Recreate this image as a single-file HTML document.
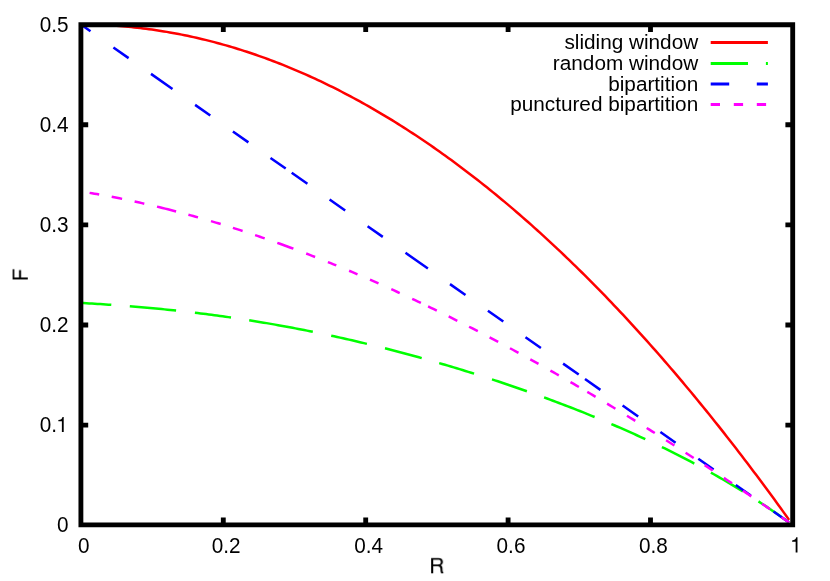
<!DOCTYPE html>
<html><head><meta charset="utf-8"><title>F vs R</title>
<style>html,body{margin:0;padding:0;background:#fff;width:830px;height:581px;overflow:hidden;font-family:"Liberation Sans",sans-serif}</style></head>
<body>
<svg width="830" height="581" viewBox="0 0 830 581" style="position:absolute;left:0;top:0;display:block;will-change:transform">
<rect x="0" y="0" width="830" height="581" fill="#ffffff"/>
<g fill="none" stroke-width="2.5" stroke-linecap="butt" stroke-linejoin="round">
<path stroke="#ff0000" d="M80.90 24.60 L83.86 24.61 L86.83 24.63 L89.79 24.68 L92.75 24.74 L95.72 24.82 L98.68 24.91 L101.64 25.02 L104.61 25.15 L107.57 25.30 L110.53 25.47 L113.49 25.65 L116.46 25.85 L119.42 26.07 L122.38 26.30 L125.35 26.55 L128.31 26.82 L131.27 27.11 L134.24 27.41 L137.20 27.73 L140.16 28.07 L143.13 28.42 L146.09 28.80 L149.05 29.19 L152.02 29.59 L154.98 30.02 L157.94 30.46 L160.91 30.92 L163.87 31.40 L166.83 31.89 L169.80 32.40 L172.76 32.93 L175.72 33.48 L178.68 34.04 L181.65 34.62 L184.61 35.22 L187.57 35.84 L190.54 36.47 L193.50 37.12 L196.46 37.79 L199.43 38.47 L202.39 39.18 L205.35 39.89 L208.32 40.63 L211.28 41.39 L214.24 42.16 L217.21 42.95 L220.17 43.75 L223.13 44.58 L226.10 45.42 L229.06 46.28 L232.02 47.15 L234.99 48.05 L237.95 48.96 L240.91 49.88 L243.87 50.83 L246.84 51.79 L249.80 52.77 L252.76 53.77 L255.73 54.78 L258.69 55.81 L261.65 56.86 L264.62 57.93 L267.58 59.01 L270.54 60.11 L273.51 61.23 L276.47 62.37 L279.43 63.52 L282.40 64.69 L285.36 65.88 L288.32 67.09 L291.29 68.31 L294.25 69.55 L297.21 70.81 L300.18 72.08 L303.14 73.37 L306.10 74.68 L309.06 76.01 L312.03 77.35 L314.99 78.71 L317.95 80.09 L320.92 81.49 L323.88 82.90 L326.84 84.33 L329.81 85.78 L332.77 87.24 L335.73 88.73 L338.70 90.23 L341.66 91.74 L344.62 93.28 L347.59 94.83 L350.55 96.40 L353.51 97.99 L356.48 99.59 L359.44 101.21 L362.40 102.85 L365.37 104.51 L368.33 106.18 L371.29 107.87 L374.25 109.58 L377.22 111.31 L380.18 113.05 L383.14 114.81 L386.11 116.59 L389.07 118.38 L392.03 120.19 L395.00 122.02 L397.96 123.87 L400.92 125.73 L403.89 127.61 L406.85 129.51 L409.81 131.43 L412.78 133.36 L415.74 135.31 L418.70 137.28 L421.67 139.27 L424.63 141.27 L427.59 143.29 L430.56 145.33 L433.52 147.38 L436.48 149.46 L439.44 151.55 L442.41 153.65 L445.37 155.78 L448.33 157.92 L451.30 160.08 L454.26 162.25 L457.22 164.45 L460.19 166.66 L463.15 168.89 L466.11 171.13 L469.08 173.40 L472.04 175.68 L475.00 177.97 L477.97 180.29 L480.93 182.62 L483.89 184.97 L486.86 187.34 L489.82 189.72 L492.78 192.12 L495.75 194.54 L498.71 196.98 L501.67 199.43 L504.63 201.90 L507.60 204.39 L510.56 206.90 L513.52 209.42 L516.49 211.96 L519.45 214.52 L522.41 217.09 L525.38 219.69 L528.34 222.30 L531.30 224.92 L534.27 227.57 L537.23 230.23 L540.19 232.91 L543.16 235.61 L546.12 238.32 L549.08 241.05 L552.05 243.80 L555.01 246.57 L557.97 249.35 L560.94 252.15 L563.90 254.97 L566.86 257.80 L569.82 260.66 L572.79 263.53 L575.75 266.41 L578.71 269.32 L581.68 272.24 L584.64 275.18 L587.60 278.14 L590.57 281.11 L593.53 284.10 L596.49 287.11 L599.46 290.14 L602.42 293.18 L605.38 296.24 L608.35 299.32 L611.31 302.41 L614.27 305.53 L617.24 308.66 L620.20 311.80 L623.16 314.97 L626.13 318.15 L629.09 321.35 L632.05 324.57 L635.01 327.80 L637.98 331.05 L640.94 334.32 L643.90 337.61 L646.87 340.91 L649.83 344.23 L652.79 347.57 L655.76 350.93 L658.72 354.30 L661.68 357.69 L664.65 361.10 L667.61 364.52 L670.57 367.96 L673.54 371.42 L676.50 374.90 L679.46 378.39 L682.43 381.90 L685.39 385.43 L688.35 388.98 L691.32 392.54 L694.28 396.12 L697.24 399.72 L700.20 403.34 L703.17 406.97 L706.13 410.62 L709.09 414.29 L712.06 417.97 L715.02 421.68 L717.98 425.40 L720.95 429.13 L723.91 432.89 L726.87 436.66 L729.84 440.45 L732.80 444.25 L735.76 448.08 L738.73 451.92 L741.69 455.78 L744.65 459.65 L747.62 463.55 L750.58 467.46 L753.54 471.39 L756.51 475.33 L759.47 479.29 L762.43 483.27 L765.39 487.27 L768.36 491.28 L771.32 495.32 L774.28 499.36 L777.25 503.43 L780.21 507.52 L783.17 511.62 L786.14 515.73 L789.10 519.87"/>
<path stroke="#00ff00" d="M80.90 302.89 L83.66 303.06 L86.43 303.22 L89.19 303.39 L91.95 303.56 L94.72 303.73 L97.48 303.91 L100.25 304.09 L103.01 304.27 L105.77 304.46 L108.54 304.65 L111.30 304.85 M129.80 306.24 L132.69 306.48 L135.59 306.72 L138.48 306.96 L141.38 307.21 L144.27 307.46 L147.16 307.72 L150.06 307.98 L152.95 308.25 L155.84 308.53 L158.74 308.80 L161.63 309.09 L164.53 309.38 L167.42 309.67 L170.31 309.97 L173.21 310.27 L176.10 310.58 M194.90 312.73 L197.68 313.07 L200.45 313.41 L203.23 313.75 L206.01 314.11 L208.78 314.46 L211.56 314.83 L214.34 315.20 L217.12 315.57 L219.89 315.95 L222.67 316.33 L225.45 316.72 L228.22 317.12 L231.00 317.52 M249.20 320.28 L252.09 320.74 L254.98 321.21 L257.87 321.68 L260.76 322.16 L263.65 322.65 L266.55 323.14 L269.44 323.63 L272.33 324.14 L275.22 324.64 L278.11 325.16 L281.00 325.68 L283.89 326.20 L286.78 326.74 L289.67 327.28 L292.56 327.82 L295.45 328.37 L298.35 328.93 L301.24 329.49 L304.13 330.06 L307.02 330.63 L309.91 331.21 L312.80 331.80 M331.20 335.66 L334.18 336.31 L337.15 336.97 L340.12 337.63 L343.10 338.29 L346.07 338.97 L349.05 339.64 L352.02 340.33 L355.00 341.02 L357.97 341.72 L360.95 342.42 L363.92 343.13 L366.90 343.85 M385.00 348.33 L387.82 349.05 L390.65 349.78 L393.47 350.51 L396.29 351.24 L399.12 351.98 L401.94 352.73 L404.76 353.48 L407.58 354.24 L410.41 355.00 L413.23 355.77 L416.05 356.54 L418.88 357.32 L421.70 358.11 M439.20 363.09 L442.11 363.94 L445.02 364.79 L447.93 365.65 L450.83 366.52 L453.74 367.39 L456.65 368.27 L459.56 369.15 L462.47 370.04 L465.38 370.93 L468.28 371.83 L471.19 372.74 L474.10 373.65 M492.00 379.40 L494.91 380.35 L497.82 381.31 L500.73 382.28 L503.63 383.25 L506.54 384.23 L509.45 385.21 L512.36 386.20 L515.27 387.20 L518.17 388.21 L521.08 389.22 L523.99 390.23 L526.90 391.26 M544.10 397.44 L547.07 398.53 L550.04 399.63 L553.01 400.74 L555.98 401.85 L558.95 402.97 L561.92 404.10 L564.89 405.23 L567.86 406.38 L570.84 407.53 L573.81 408.68 L576.78 409.85 L579.75 411.02 L582.72 412.21 L585.69 413.40 L588.66 414.60 L591.63 415.80 L594.60 417.02 M611.40 424.05 L614.23 425.26 L617.05 426.48 L619.88 427.71 L622.70 428.95 L625.52 430.19 L628.35 431.44 L631.17 432.71 L634.00 433.98 L636.82 435.26 L639.65 436.55 L642.47 437.85 L645.30 439.16 M661.90 447.05 L664.85 448.49 L667.79 449.94 L670.74 451.40 L673.68 452.87 L676.63 454.36 L679.57 455.86 L682.52 457.37 L685.46 458.89 L688.41 460.43 L691.35 461.98 L694.30 463.54 M710.90 472.60 L713.81 474.24 L716.72 475.89 L719.63 477.56 L722.54 479.24 L725.45 480.93 L728.35 482.64 L731.26 484.37 L734.17 486.12 L737.08 487.88 L739.99 489.65 L742.90 491.45 M758.50 501.37 L761.28 503.19 L764.06 505.03 L766.85 506.89 L769.63 508.77 L772.41 510.66 L775.19 512.57 L777.97 514.50 L780.75 516.45 L783.54 518.42 L786.32 520.41 L789.10 522.42"/>
<path stroke="#0000ff" d="M80.90 24.60 L90.50 31.35 M113.40 47.45 L128.60 58.14 M151.00 73.89 L172.50 89.00 M195.10 104.89 L210.30 115.58 M232.90 131.47 L248.40 142.37 M270.50 157.91 L285.70 168.59 M291.70 172.81 L307.40 183.85 M329.60 199.46 L345.20 210.43 M367.60 226.18 L382.80 236.86 M405.50 252.82 L427.90 268.57 M450.00 284.11 L465.50 295.01 M487.90 310.76 L503.30 321.59 M525.50 337.19 L540.90 348.02 M563.10 363.63 L578.70 374.60 M585.00 379.03 L600.40 389.86 M622.60 405.46 L638.20 416.43 M660.40 432.04 L675.60 442.73 M698.30 458.69 L713.60 469.44 M735.80 485.05 L750.80 495.60 M773.50 511.56 L788.80 522.32"/>
<path stroke="#ff00ff" d="M89.60 192.87 L92.00 193.27 L94.40 193.68 L96.80 194.10 L99.20 194.52 M111.70 196.83 L114.30 197.33 L116.90 197.84 L119.50 198.35 L122.10 198.88 M134.60 201.50 L137.03 202.03 L139.45 202.57 L141.88 203.11 L144.30 203.66 M157.00 206.63 L159.73 207.29 L162.46 207.96 L165.19 208.63 L167.91 209.32 L170.64 210.01 L173.37 210.71 L176.10 211.42 M188.40 214.70 L190.80 215.36 L193.20 216.02 L195.60 216.69 L198.00 217.37 M211.00 221.13 L213.43 221.85 L215.85 222.58 L218.27 223.31 L220.70 224.04 M232.90 227.84 L235.32 228.61 L237.75 229.38 L240.18 230.17 L242.60 230.95 M255.10 235.10 L257.50 235.92 L259.90 236.73 L262.30 237.56 L264.70 238.39 M277.30 242.82 L279.98 243.79 L282.67 244.76 L285.35 245.73 L288.03 246.72 L290.72 247.71 L293.40 248.70 M306.20 253.54 L309.17 254.68 L312.13 255.83 L315.10 256.98 M327.90 262.06 L330.70 263.19 L333.50 264.32 L336.30 265.46 M349.10 270.77 L351.90 271.95 L354.70 273.13 L357.50 274.32 M370.00 279.71 L372.83 280.95 L375.67 282.20 L378.50 283.45 M391.30 289.19 L394.10 290.46 L396.90 291.74 L399.70 293.03 M412.20 298.83 L415.10 300.20 L418.00 301.57 L420.90 302.95 M428.10 306.39 L431.00 307.79 L433.90 309.20 L436.80 310.61 M448.70 316.46 L451.57 317.89 L454.43 319.32 L457.30 320.76 M469.10 326.74 L472.00 328.23 L474.90 329.72 L477.80 331.22 M489.60 337.37 L492.47 338.88 L495.33 340.39 L498.20 341.91 M510.00 348.23 L512.83 349.76 L515.67 351.30 L518.50 352.84 M530.30 359.32 L533.03 360.84 L535.77 362.35 L538.50 363.88 M550.40 370.57 L553.20 372.16 L556.00 373.75 L558.80 375.35 M570.50 382.08 L573.30 383.70 L576.10 385.33 L578.90 386.96 M587.30 391.89 L590.07 393.53 L592.83 395.16 L595.60 396.81 M607.10 403.68 L609.87 405.35 L612.63 407.02 L615.40 408.70 M627.00 415.77 L629.77 417.47 L632.53 419.18 L635.30 420.88 M646.70 427.97 L649.40 429.66 L652.10 431.35 L654.80 433.05 M666.10 440.20 L668.87 441.96 L671.63 443.73 L674.40 445.50 M685.60 452.71 L688.30 454.46 L691.00 456.21 L693.70 457.97 M704.70 465.17 L707.37 466.92 L710.03 468.68 L712.70 470.45 M723.90 477.89 L726.60 479.70 L729.30 481.50 L732.00 483.32 M743.00 490.74 L745.77 492.62 L748.53 494.50 L751.30 496.39 M762.00 503.71 L764.67 505.55 L767.33 507.39 L770.00 509.23 M781.50 517.22 L784.03 518.99 L786.57 520.76 L789.10 522.53"/>
<path stroke-width="3" stroke="#ff0000" d="M710.7 42.5H767.9"/>
<path stroke-width="3" stroke="#00ff00" d="M710.7 63.4H748.0M765.9 63.4H767.9"/>
<path stroke-width="3" stroke="#0000ff" d="M710.7 84.0H729.2M756.8 84.0H767.9"/>
<path stroke-width="3" stroke="#ff00ff" d="M710.7 104.6H720.0M733.8 104.6H743.1M756.8 104.6H766.1"/>
</g>
<path fill="none" stroke="#000" stroke-width="4.85" stroke-linejoin="miter" stroke-linecap="butt" d="M80.9 24.7H792.7V524.8H80.9ZM223.30 524.8v-7.3M223.30 24.7v7.3M365.70 524.8v-7.3M365.70 24.7v7.3M508.10 524.8v-7.3M508.10 24.7v7.3M650.50 524.8v-7.3M650.50 24.7v7.3M80.9 425.08h7.3M792.7 425.08h-7.3M80.9 324.96h7.3M792.7 324.96h-7.3M80.9 224.84h7.3M792.7 224.84h-7.3M80.9 124.72h7.3M792.7 124.72h-7.3"/>
<g font-family="Liberation Sans, sans-serif" font-size="20.75px" fill="#000" style="filter:grayscale(1)">
<text transform="translate(68.6 532.20) scale(1 1.03)" text-anchor="end">0</text>
<text transform="translate(57.06 432.08) scale(1 1.03)" text-anchor="end">0.</text>
<path transform="translate(56.26 432.08) scale(0.02075 -0.02137)" d="M271 0H359V709H301C285 625 215 572 101 566V506H271Z"/>
<text transform="translate(68.6 331.96) scale(1 1.03)" text-anchor="end">0.2</text>
<text transform="translate(68.6 231.84) scale(1 1.03)" text-anchor="end">0.3</text>
<text transform="translate(68.6 131.72) scale(1 1.03)" text-anchor="end">0.4</text>
<text transform="translate(68.6 31.60) scale(1 1.03)" text-anchor="end">0.5</text>
<text transform="translate(83.80 552.5) scale(1 1.03)" text-anchor="middle">0</text>
<text transform="translate(226.20 552.5) scale(1 1.03)" text-anchor="middle">0.2</text>
<text transform="translate(368.60 552.5) scale(1 1.03)" text-anchor="middle">0.4</text>
<text transform="translate(511.00 552.5) scale(1 1.03)" text-anchor="middle">0.6</text>
<text transform="translate(653.40 552.5) scale(1 1.03)" text-anchor="middle">0.8</text>
<path transform="translate(790.03 552.50) scale(0.02075 -0.02137)" d="M271 0H359V709H301C285 625 215 572 101 566V506H271Z"/>
<path fill-rule="evenodd" transform="translate(429.26 573.30) scale(0.02148 -0.02127)" d="M88 0V718H422C560 718 635 640 635 528C635 452 597 398 528 372C592 348 610 300 614 222C618 120 622 60 660 22V0H558C530 30 524 90 520 190C516 290 480 332 392 332H183V0ZM183 414H405C495 414 537 455 537 525C537 598 492 636 405 636H183Z"/>
<path transform="translate(27.8 281.24) rotate(-90) scale(0.02075 -0.02137)" d="M86 0V718H583V633H181V405H536V321H181V0Z"/>
<text x="698.2" y="48.90" text-anchor="end">sliding window</text>
<text x="698.2" y="69.90" text-anchor="end">random window</text>
<text x="698.2" y="90.70" text-anchor="end">bipartition</text>
<text x="698.2" y="111.40" text-anchor="end">punctured bipartition</text>
</g></svg>
</body></html>
